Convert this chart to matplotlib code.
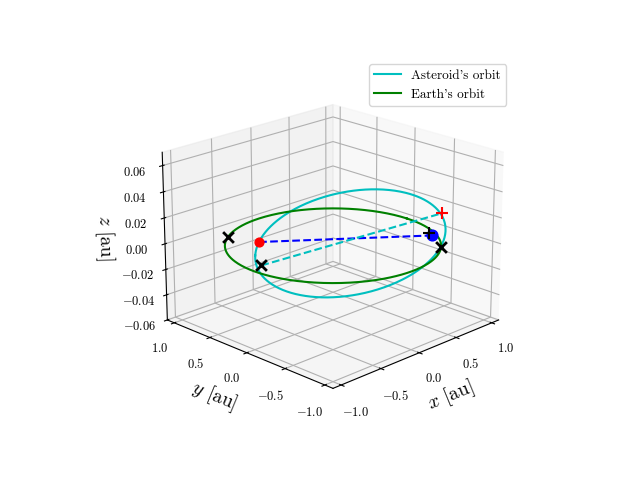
import numpy as np
import matplotlib
matplotlib.use("Agg")
import matplotlib.pyplot as plt

plt.rcParams["font.family"] = "serif"
plt.rcParams["font.serif"] = ["cmr10"]
plt.rcParams["mathtext.fontset"] = "cm"
plt.rcParams["axes.formatter.use_mathtext"] = True
plt.rcParams["axes.unicode_minus"] = False

# orbital elements (au, deg)
earth_a, earth_e = 1.0, 0.0
ast_a, ast_e, ast_inc, ast_node, ast_peri = 0.88, 0.18, 1.25, -80.0, 215.0

# positions [x, y, z] in au
earth_pos = [-0.45, 0.52, 0.0]
ast_pos = [0.92, -0.40, -0.004]
ast_plus = [0.90, -0.38, -0.002]
ast_red_plus = [1.08, -0.38, 0.01]
earth_x = [[-0.57, 0.82, 0.0], [-0.99, -0.09, 0.006], [0.64, -0.77, 0.0]]


def orbit(a, e, inc=0.0, node=0.0, peri=0.0):
    nu = np.linspace(0, 2 * np.pi, 400)
    r = a * (1 - e ** 2) / (1 + e * np.cos(nu))
    i, O, w = np.radians([inc, node, peri])
    u = nu + w
    x = r * (np.cos(O) * np.cos(u) - np.sin(O) * np.sin(u) * np.cos(i))
    y = r * (np.sin(O) * np.cos(u) + np.cos(O) * np.sin(u) * np.cos(i))
    z = r * np.sin(u) * np.sin(i)
    return x, y, z


fig = plt.figure(figsize=(6.4, 4.8))
ax = fig.add_subplot(projection="3d")
ax.view_init(elev=20, azim=-135)

ax.plot(*orbit(ast_a, ast_e, ast_inc, ast_node, ast_peri), color="c", label="Asteroid's orbit")
ax.plot(*orbit(earth_a, earth_e), color="g", label="Earth's orbit")

ax.plot(*zip(earth_pos, ast_pos), "b--")
ax.plot(*zip(earth_x[1], ast_red_plus), "c--")
ax.scatter(*earth_pos, color="r", s=40, depthshade=False)
ax.scatter(*ast_pos, color="b", s=60, depthshade=False)
ax.scatter(*ast_plus, color="k", marker="+", s=80, depthshade=False)
ax.scatter(*ast_red_plus, color="r", marker="+", s=80, depthshade=False)
for p in earth_x:
    ax.scatter(*p, color="k", marker="x", s=60, linewidths=2, depthshade=False)

ax.set_xlim(-1.1, 1.1)
ax.set_ylim(-1.1, 1.1)
ax.set_zlim(-0.06, 0.07)
ax.set_xticks([-1.0, -0.5, 0.0, 0.5, 1.0])
ax.set_yticks([-1.0, -0.5, 0.0, 0.5, 1.0])
ax.set_zticks([-0.06, -0.04, -0.02, 0.0, 0.02, 0.04, 0.06])
ax.set_xlabel(r"$x$ [au]", fontsize=14)
ax.set_ylabel(r"$y$ [au]", fontsize=14)
ax.set_zlabel(r"$z$ [au]", fontsize=14)
ax.tick_params(labelsize=9)
ax.legend(loc="upper right", fontsize=9.5)

fig.savefig("out.png", dpi=100)
